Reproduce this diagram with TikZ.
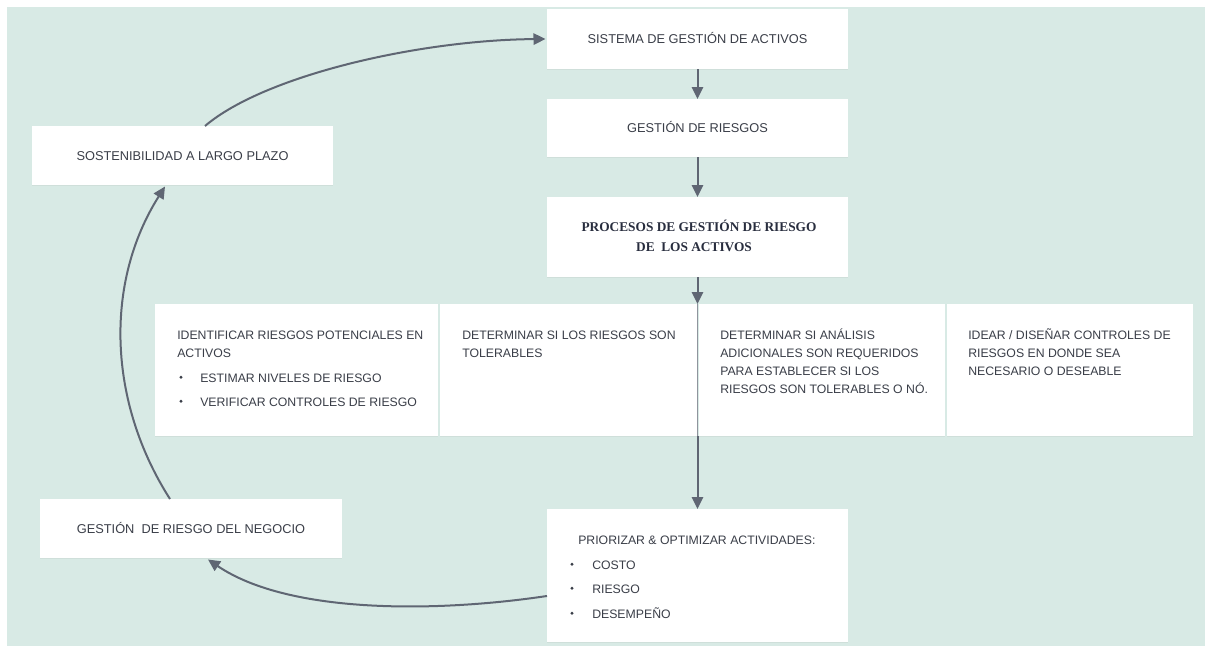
\documentclass[tikz,border=0pt]{standalone}
\usepackage{fontspec}
\setmainfont{Liberation Sans}
\newfontfamily\headserif{Liberation Serif}
\usetikzlibrary{arrows.meta,calc,shadows}

\definecolor{bgmint}{RGB}{216,234,229}
\definecolor{ink}{RGB}{58,62,72}
\definecolor{headink}{RGB}{40,45,62}
\definecolor{linkgray}{RGB}{95,102,115}

\begin{document}
\begin{tikzpicture}[x=0.75pt,y=-0.75pt,
  box/.style={draw=none, fill=white, inner sep=0pt, outer sep=0pt,
    drop shadow={opacity=0.10, shadow xshift=0.3pt, shadow yshift=-0.8pt}},
  bw/.style={minimum width=#1*0.75pt},
  bh/.style={minimum height=#1*0.75pt},
  boxtext/.style={font=\fontsize{9.6}{11}\selectfont, text=ink,
    text height=6.9pt, text depth=0pt},
  txt/.style={font=\fontsize{9.2}{11}\selectfont, text=ink,
    anchor=base west, inner sep=0pt},
  bulletdot/.style={circle, fill=ink, draw=none, inner sep=0pt, minimum size=2.5pt},
  headtext/.style={font=\headserif\bfseries\fontsize{10}{12}\selectfont,
    text=headink, anchor=base, inner sep=0pt},
  conn/.style={draw=linkgray, line width=1.5pt,
    -{Triangle[length=9pt,width=8.5pt]}},
  gapline/.style={draw=linkgray!70, line width=0.8pt},
]
\useasboundingbox (0,0) rectangle (1205,646);
\fill[bgmint] (7,7) rectangle (1205,646);

% central column
\node[box, boxtext, bw=301, bh=60] (sistema) at (697.5,39)
  {SISTEMA DE GESTIÓN DE ACTIVOS};
\node[box, boxtext, bw=301, bh=58] (gestion) at (697.5,128)
  {GESTIÓN DE RIESGOS};
\node[box, bw=301, bh=80] (procesos) at (697.5,237) {};
\node[headtext] (proc1) at (699,231.4) {PROCESOS DE GESTIÓN DE RIESGO};
\node[headtext] (proc2) at (694,251.4) {DE\ \ LOS ACTIVOS};

% connectors of the central column
\coordinate (rowtop) at ($(procesos.south)+(0,27)$);
\coordinate (rowbot) at ($(procesos.south)+(0,159)$);
\draw[conn] (sistema.south) -- (gestion.north);
\draw[conn] (gestion.south) -- (procesos.north);
\draw[conn] (procesos.south) -- (rowtop);
\draw[gapline] (rowtop) -- (rowbot);

% row of process steps
\node[box, bw=283, bh=132] (b1) at (296.5,370) {};
\node[box, bw=257, bh=132] (b2) at (568.5,370) {};
\node[box, bw=246, bh=132] (b3) at (822,370) {};
\node[box, bw=246, bh=132] (b4) at (1070,370) {};

\node[txt] (b1a) at (177,339) {IDENTIFICAR RIESGOS POTENCIALES EN};
\node[txt] (b1b) at (177,357) {ACTIVOS};
\node[bulletdot] (b1d1) at (181,377.3) {};
\node[txt] (b1c) at (200,382) {ESTIMAR NIVELES DE RIESGO};
\node[bulletdot] (b1d2) at (181,401.3) {};
\node[txt] (b1e) at (200,406) {VERIFICAR CONTROLES DE RIESGO};

\node[txt] (b2a) at (462,339) {DETERMINAR SI LOS RIESGOS SON};
\node[txt] (b2b) at (462,357.3) {TOLERABLES};

\node[txt] (b3a) at (720,339) {DETERMINAR SI ANÁLISIS};
\node[txt] (b3b) at (720,357.3) {ADICIONALES SON REQUERIDOS};
\node[txt] (b3c) at (720,375.6) {PARA ESTABLECER SI LOS};
\node[txt] (b3d) at (720,393.9) {RIESGOS SON TOLERABLES O NÓ.};

\node[txt] (b4a) at (968,339) {IDEAR / DISEÑAR CONTROLES DE};
\node[txt] (b4b) at (968,357.3) {RIESGOS EN DONDE SEA};
\node[txt] (b4c) at (968,375.6) {NECESARIO O DESEABLE};

% prioritisation box
\node[box, bw=301, bh=133] (priorizar) at (697.5,575.5) {};
\node[txt] (pr0) at (578,544) {PRIORIZAR \& OPTIMIZAR ACTIVIDADES:};
\node[bulletdot] (prd1) at (572,564.3) {};
\node[txt] (pr1) at (592,569) {COSTO};
\node[bulletdot] (prd2) at (572,588.3) {};
\node[txt] (pr2) at (592,593) {RIESGO};
\node[bulletdot] (prd3) at (572,613.3) {};
\node[txt] (pr3) at (592,618) {DESEMPEÑO};

\draw[conn] (rowbot) -- (priorizar.north);

% left loop
\node[box, boxtext, bw=301, bh=59] (sosten) at (182.5,155.5)
  {SOSTENIBILIDAD A LARGO PLAZO};
\node[box, boxtext, bw=302, bh=59] (negocio) at (191,528.5)
  {GESTIÓN\ \ DE RIESGO DEL NEGOCIO};

\draw[conn] ($(priorizar.north west)!0.654!(priorizar.south west)$)
  .. controls (440,612) and (290,615) .. ($(negocio.south)+(17,1.5)$);
\draw[conn] ($(negocio.north)+(-21,0)$)
  .. controls (108,402) and (104,283) .. ($(sosten.south)+(-17.5,1.5)$);
\draw[conn] ($(sosten.north)+(22.5,0)$)
  .. controls (265,75) and (420,40) .. ($(sistema.west)+(-1.5,0)$);
\end{tikzpicture}
\end{document}
